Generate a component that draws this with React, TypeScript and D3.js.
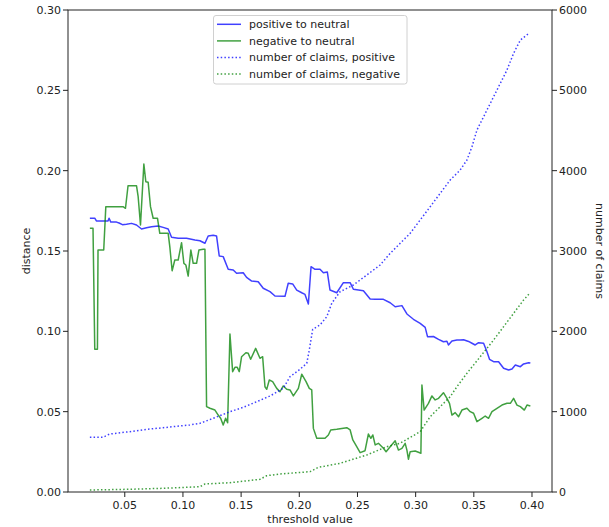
import React from "react";
import * as d3 from "d3";

// positive to neutral (distance)
const posThr = [0.020, 0.0242, 0.0256, 0.0356, 0.0365, 0.0380, 0.0429, 0.0451, 0.0480, 0.0515, 0.0558, 0.0601, 0.0644, 0.0687, 0.0730, 0.0787, 0.0830, 0.0873, 0.0902, 0.0959, 0.1031, 0.1103, 0.1146, 0.1189, 0.1217, 0.1260, 0.1289, 0.1312, 0.1346, 0.1389, 0.1432, 0.1461, 0.1518, 0.1547, 0.1591, 0.1647, 0.1690, 0.1748, 0.1791, 0.1877, 0.1905, 0.1943, 0.1978, 0.2021, 0.2049, 0.2078, 0.2101, 0.2135, 0.2178, 0.2207, 0.2241, 0.2264, 0.2322, 0.2379, 0.2437, 0.2465, 0.2551, 0.2609, 0.2652, 0.2723, 0.2781, 0.2824, 0.2882, 0.2925, 0.2981, 0.3039, 0.3082, 0.3102, 0.3153, 0.3197, 0.3239, 0.3269, 0.3282, 0.3312, 0.3355, 0.3383, 0.3412, 0.3455, 0.3484, 0.3512, 0.3541, 0.3584, 0.3613, 0.3635, 0.3670, 0.3713, 0.3756, 0.3799, 0.3828, 0.3857, 0.3900, 0.3928, 0.3971, 0.3986];
const posDist = [0.1704, 0.1704, 0.1687, 0.1687, 0.1704, 0.1680, 0.1680, 0.1674, 0.1664, 0.1666, 0.1672, 0.1662, 0.1637, 0.1645, 0.1651, 0.1656, 0.1647, 0.1637, 0.1585, 0.1579, 0.1579, 0.1568, 0.1564, 0.1548, 0.1593, 0.1598, 0.1593, 0.1469, 0.1465, 0.1386, 0.1382, 0.1361, 0.1365, 0.1336, 0.1313, 0.1309, 0.1268, 0.1247, 0.1220, 0.1218, 0.1299, 0.1295, 0.1257, 0.1240, 0.1230, 0.1170, 0.1402, 0.1386, 0.1386, 0.1365, 0.1369, 0.1257, 0.1240, 0.1303, 0.1303, 0.1262, 0.1253, 0.1201, 0.1199, 0.1199, 0.1178, 0.1153, 0.1160, 0.1108, 0.1075, 0.1050, 0.1025, 0.0967, 0.0968, 0.0950, 0.0935, 0.0938, 0.0915, 0.0940, 0.0946, 0.0946, 0.0948, 0.0937, 0.0926, 0.0915, 0.0929, 0.0926, 0.0873, 0.0826, 0.0811, 0.0811, 0.0770, 0.0759, 0.0766, 0.0790, 0.0780, 0.0797, 0.0805, 0.0803];

// negative to neutral (distance)
const negThr = [0.0200, 0.0227, 0.0242, 0.0265, 0.0270, 0.0319, 0.0337, 0.0485, 0.0506, 0.0528, 0.0601, 0.0615, 0.0635, 0.0664, 0.0681, 0.0701, 0.0721, 0.0744, 0.0781, 0.0801, 0.0873, 0.0887, 0.0907, 0.0930, 0.0959, 0.0988, 0.1008, 0.1025, 0.1045, 0.1068, 0.1088, 0.1117, 0.1137, 0.1174, 0.1189, 0.1203, 0.1232, 0.1275, 0.1303, 0.1324, 0.1346, 0.1367, 0.1384, 0.1404, 0.1427, 0.1447, 0.1467, 0.1484, 0.1504, 0.1541, 0.1561, 0.1582, 0.1625, 0.1662, 0.1685, 0.1705, 0.1720, 0.1742, 0.1771, 0.1806, 0.1834, 0.1862, 0.1892, 0.1920, 0.1949, 0.1992, 0.2021, 0.2058, 0.2086, 0.2107, 0.2121, 0.2150, 0.2178, 0.2221, 0.2250, 0.2270, 0.2322, 0.2408, 0.2437, 0.2460, 0.2480, 0.2523, 0.2565, 0.2594, 0.2615, 0.2632, 0.2652, 0.2680, 0.2723, 0.2746, 0.2781, 0.2824, 0.2852, 0.2882, 0.2910, 0.2925, 0.2938, 0.2953, 0.2996, 0.3024, 0.3045, 0.3054, 0.3073, 0.3110, 0.3140, 0.3168, 0.3197, 0.3239, 0.3269, 0.3291, 0.3312, 0.3340, 0.3369, 0.3398, 0.3441, 0.3469, 0.3498, 0.3527, 0.3570, 0.3598, 0.3627, 0.3656, 0.3699, 0.3742, 0.3785, 0.3814, 0.3842, 0.3871, 0.3900, 0.3934, 0.3957, 0.3986];
const negDist = [0.1641, 0.1641, 0.0888, 0.0888, 0.1506, 0.1506, 0.1776, 0.1776, 0.1766, 0.1906, 0.1906, 0.1838, 0.1662, 0.2041, 0.1931, 0.1928, 0.1776, 0.1704, 0.1704, 0.1610, 0.1610, 0.1527, 0.1377, 0.1444, 0.1444, 0.1552, 0.1423, 0.1413, 0.1344, 0.1506, 0.1423, 0.1423, 0.1506, 0.1511, 0.1511, 0.0531, 0.0521, 0.0510, 0.0479, 0.0459, 0.0417, 0.0459, 0.0431, 0.0983, 0.0749, 0.0776, 0.0776, 0.0749, 0.0842, 0.0867, 0.0863, 0.0826, 0.0894, 0.0832, 0.0842, 0.0655, 0.0639, 0.0697, 0.0687, 0.0645, 0.0624, 0.0660, 0.0639, 0.0635, 0.0598, 0.0645, 0.0733, 0.0687, 0.0645, 0.0635, 0.0396, 0.0334, 0.0334, 0.0334, 0.0355, 0.0386, 0.0390, 0.0400, 0.0386, 0.0324, 0.0299, 0.0245, 0.0257, 0.0361, 0.0334, 0.0355, 0.0293, 0.0303, 0.0272, 0.0251, 0.0282, 0.0319, 0.0261, 0.0272, 0.0303, 0.0261, 0.0204, 0.0251, 0.0255, 0.0247, 0.0241, 0.0666, 0.0510, 0.0552, 0.0598, 0.0573, 0.0583, 0.0618, 0.0583, 0.0552, 0.0479, 0.0494, 0.0469, 0.0510, 0.0521, 0.0500, 0.0490, 0.0438, 0.0459, 0.0473, 0.0459, 0.0500, 0.0521, 0.0541, 0.0552, 0.0552, 0.0583, 0.0541, 0.0531, 0.0510, 0.0541, 0.0535];

// number of claims, positive
const claimsPosThr = [0.020, 0.0313, 0.0371, 0.0543, 0.0687, 0.0830, 0.0973, 0.1059, 0.1146, 0.1260, 0.1404, 0.1518, 0.1634, 0.1748, 0.1862, 0.1920, 0.2006, 0.2064, 0.2086, 0.2115, 0.2178, 0.2236, 0.2279, 0.2350, 0.2465, 0.2580, 0.2695, 0.2781, 0.2867, 0.2953, 0.3039, 0.3125, 0.3211, 0.3297, 0.3383, 0.3441, 0.3484, 0.3527, 0.3613, 0.3699, 0.3785, 0.3842, 0.3900, 0.3980];
const claimsPos = [681, 681, 722, 751, 780, 800, 822, 834, 855, 917, 999, 1054, 1124, 1195, 1291, 1435, 1527, 1602, 1768, 2025, 2079, 2182, 2349, 2493, 2577, 2701, 2826, 2971, 3096, 3220, 3386, 3551, 3718, 3884, 4008, 4133, 4298, 4506, 4755, 5004, 5253, 5461, 5626, 5717];

// number of claims, negative
const claimsNegThr = [0.020, 0.0543, 0.0830, 0.1146, 0.1189, 0.1404, 0.1662, 0.1720, 0.1834, 0.2092, 0.2164, 0.2350, 0.2580, 0.2752, 0.2867, 0.3039, 0.3125, 0.3211, 0.3297, 0.3355, 0.3441, 0.3555, 0.3670, 0.3756, 0.3842, 0.3928, 0.3980];
const claimsNeg = [25, 34, 46, 66, 100, 116, 158, 203, 224, 253, 307, 357, 461, 564, 607, 751, 937, 1062, 1186, 1311, 1478, 1684, 1892, 2058, 2224, 2390, 2473];

const xTicks = [0.05, 0.10, 0.15, 0.20, 0.25, 0.30, 0.35, 0.40];
const distTicks = [0.00, 0.05, 0.10, 0.15, 0.20, 0.25, 0.30];
const claimTicks = [0, 1000, 2000, 3000, 4000, 5000, 6000];

const legendLabels = ["positive to neutral", "negative to neutral", "number of claims, positive", "number of claims, negative"];

const BLUE = "#0000ff";
const GREEN = "#008000";

export default function App() {
  const W = 609, H = 527;
  const L = 68, R = 552, T = 10, B = 492;
  const x = d3.scaleLinear().domain([0.0012, 0.4172]).range([L, R]);
  const yL = d3.scaleLinear().domain([0, 0.30]).range([B, T]);
  const yR = d3.scaleLinear().domain([0, 6000]).range([B, T]);

  const mk = (xs: number[], ys: number[], sy: d3.ScaleLinear<number, number>) =>
    d3.line<number>().x((_, i) => x(xs[i])).y((d) => sy(d))(ys) || "";

  const font = "DejaVu Sans, sans-serif";
  const fs = 11;
  const txt = "#222";

  const legendItems = [
    { label: legendLabels[0], color: BLUE, dash: undefined },
    { label: legendLabels[1], color: GREEN, dash: undefined },
    { label: legendLabels[2], color: BLUE, dash: "1.5 2.2" },
    { label: legendLabels[3], color: GREEN, dash: "1.5 2.2" },
  ];

  return (
    <svg width={W} height={H} style={{ position: "absolute", left: 0, top: 0, background: "#fff" }} fontFamily={font}>
      <rect x={0} y={0} width={W} height={H} fill="#fff" />
      {/* lines */}
      <g fill="none" strokeWidth={1.5} strokeOpacity={0.75} strokeLinejoin="round">
        <path d={mk(posThr, posDist, yL)} stroke={BLUE} />
        <path d={mk(negThr, negDist, yL)} stroke={GREEN} />
        <path d={mk(claimsPosThr, claimsPos, yR)} stroke={BLUE} strokeDasharray="1.5 2.2" />
        <path d={mk(claimsNegThr, claimsNeg, yR)} stroke={GREEN} strokeDasharray="1.5 2.2" />
      </g>
      {/* spines */}
      <rect x={L} y={T} width={R - L} height={B - T} fill="none" stroke="#222" strokeWidth={1} />
      {/* x ticks */}
      {xTicks.map((t) => (
        <g key={"x" + t}>
          <line x1={x(t)} x2={x(t)} y1={B} y2={B + 5} stroke="#222" />
          <text x={x(t)} y={B + 17} textAnchor="middle" fontSize={fs} fill={txt}>{t.toFixed(2)}</text>
        </g>
      ))}
      {/* left ticks */}
      {distTicks.map((t) => (
        <g key={"l" + t}>
          <line x1={L - 5} x2={L} y1={yL(t)} y2={yL(t)} stroke="#222" />
          <text x={L - 7} y={yL(t)} dy="0.35em" textAnchor="end" fontSize={fs} fill={txt}>{t.toFixed(2)}</text>
        </g>
      ))}
      {/* right ticks */}
      {claimTicks.map((t) => (
        <g key={"r" + t}>
          <line x1={R} x2={R + 5} y1={yR(t)} y2={yR(t)} stroke="#222" />
          <text x={R + 7} y={yR(t)} dy="0.35em" textAnchor="start" fontSize={fs} fill={txt}>{String(t)}</text>
        </g>
      ))}
      {/* axis labels */}
      <text x={(L + R) / 2} y={523} textAnchor="middle" fontSize={fs} fill={txt}>threshold value</text>
      <text transform={`translate(30,${(T + B) / 2}) rotate(-90)`} textAnchor="middle" fontSize={fs} fill={txt}>distance</text>
      <text transform={`translate(596,${(T + B) / 2}) rotate(90)`} textAnchor="middle" fontSize={fs} fill={txt}>number of claims</text>
      {/* legend */}
      <g>
        <rect x={213.5} y={15.5} width={193.5} height={68.5} rx={2.5} fill="#fff" fillOpacity={0.8} stroke="#d0d0d0" />
        {legendItems.map((it, i) => {
          const cy = 24.3 + i * 16.6;
          return (
            <g key={it.label}>
              <line x1={217} x2={241} y1={cy} y2={cy} stroke={it.color} strokeOpacity={0.75} strokeWidth={1.5} strokeDasharray={it.dash} />
              <text x={249} y={cy} dy="0.35em" fontSize={fs} fill={txt}>{it.label}</text>
            </g>
          );
        })}
      </g>
    </svg>
  );
}
